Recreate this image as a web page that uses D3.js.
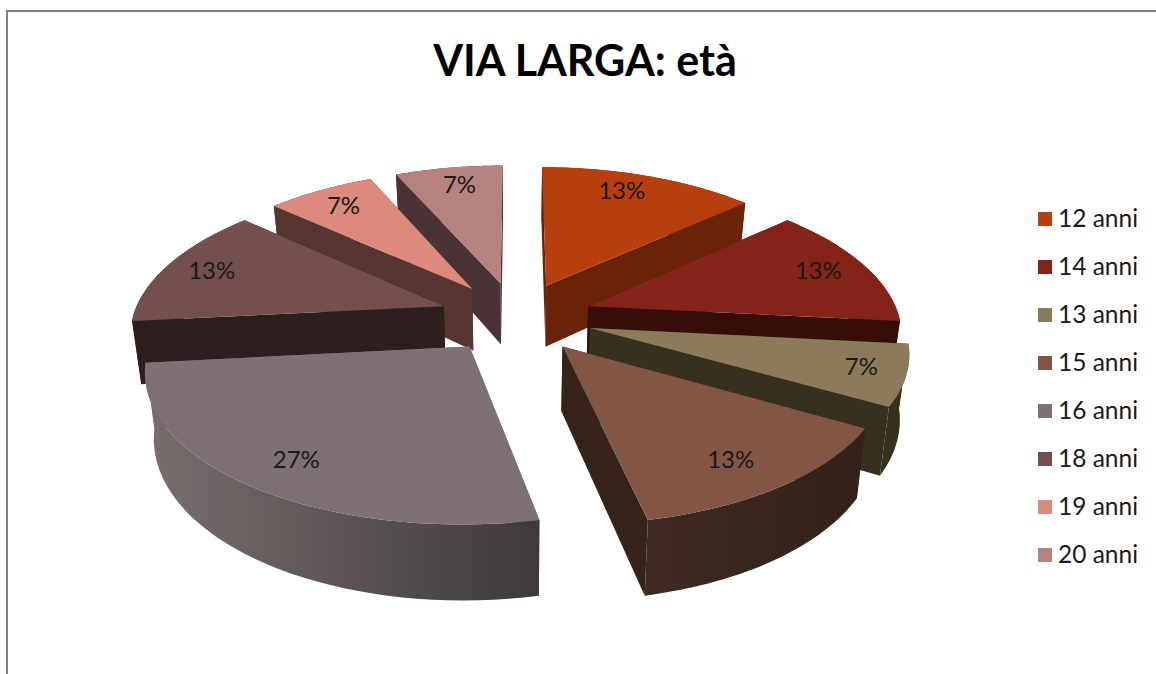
<!DOCTYPE html>
<html>

<head>
  <script src="https://d3js.org/d3.v7.min.js"></script>
  <meta charset='utf-8'>
  <title>VIA LARGA: età</title>
  <style>
    html, body {
      margin: 0;
      background: #fff;
    }

    svg {
      display: block;
    }

    text {
      font-family: Lato, "Open Sans", sans-serif;
      fill: #1a1a1a;
    }
  </style>
</head>

<body>
  <div id='chart'></div>
  <script>
    var ages = ['12 anni', '14 anni', '13 anni', '15 anni', '16 anni', '18 anni', '19 anni', '20 anni'];
    var counts = [2, 2, 1, 2, 4, 2, 1, 1];
    var topColors = ['#b83e10', '#842318', '#8b7b5a', '#825545', '#7e7073', '#734f4f', '#dc8a7e', '#b58280'];
    var wallColors = ['#692408', '#380d07', '#38301f', '#36231b', '#7a6e6f', '#2e1f1f', '#573531', '#4a3334'];
    var outerLeft = ['#692408', '#380d07', '#38301f', '#3e2a20', '#7a6e6f', '#2e1f1f', '#573531', '#4a3334'];
    var outerRight = ['#692408', '#380d07', '#38301f', '#33211a', '#3e3a3a', '#2e1f1f', '#573531', '#4a3334'];

    var width = 1156,
      height = 674;

    var svg = d3.select('#chart')
      .append('svg')
      .attr('width', width)
      .attr('height', height);

    // chart frame, only top and left are inside the picture
    svg.append('path')
      .attr('d', 'M7,674V11H1156')
      .attr('fill', 'none')
      .attr('stroke', '#808080')
      .attr('stroke-width', 2);

    svg.append('text')
      .attr('x', 585)
      .attr('y', 76)
      .attr('text-anchor', 'middle')
      .attr('font-size', 43)
      .attr('font-weight', 700)
      .style('fill', '#000')
      .text('VIA LARGA: età');

    // perspective settings, fitted by eye on the reference
    var cx = 516, cy = 317,
      fx = 311, fy = 143.5,
      persp = 0.142,
      depth = 63,
      explode = 0.247,
      labelRadius = 0.83;

    // x, y on the unit disc (y goes away from the viewer), z = 0 top, 1 bottom
    function project(x, y, z) {
      var w = 1 + persp * y;
      var wx = w + 0.02 * Math.max(y, 0);
      return [cx + fx * x / wx * (1 - 0.024 * z), cy - fy * y / w + depth * z / w];
    }

    var pie = d3.pie().sort(null).value(function(d) { return d; });
    var slices = pie(counts).map(function(d, i) {
      d.i = i;
      d.mid = (d.startAngle + d.endAngle) / 2;
      d.ox = explode * Math.sin(d.mid);
      d.oy = explode * Math.cos(d.mid);
      return d;
    });

    function onRim(d, a, z) {
      return project(d.ox + Math.sin(a), d.oy + Math.cos(a), z);
    }

    function rim(d, z) {
      return d3.range(0, 41).map(function(k) {
        return onRim(d, d.startAngle + (d.endAngle - d.startAngle) * k / 40, z);
      });
    }

    var line = d3.line();
    var color = d3.scaleOrdinal().domain(ages).range(topColors);
    var defs = svg.append('defs');

    slices.forEach(function(d) {
      var ends = rim(d, 0);
      var g = defs.append('linearGradient')
        .attr('id', 'outer' + d.i)
        .attr('gradientUnits', 'userSpaceOnUse')
        .attr('x1', d3.min(ends, function(p) { return p[0]; }))
        .attr('x2', d3.max(ends, function(p) { return p[0]; }))
        .attr('y1', 0)
        .attr('y2', 0);
      g.append('stop').attr('offset', 0).attr('stop-color', outerLeft[d.i]);
      g.append('stop').attr('offset', 1).attr('stop-color', outerRight[d.i]);
    });

    // back slices first so the front ones cover them
    var order = slices.slice().sort(function(a, b) {
      return d3.descending(a.oy, b.oy);
    });

    var group = svg.selectAll('g.slice')
      .data(order)
      .enter()
      .append('g')
      .attr('class', 'slice');

    group.each(function(d) {
      var g = d3.select(this);
      var top = rim(d, 0);
      var bottom = rim(d, 1);
      var apexTop = project(d.ox, d.oy, 0);
      var apexBottom = project(d.ox, d.oy, 1);

      [0, top.length - 1].forEach(function(k) {
        g.append('path')
          .attr('d', line([apexTop, top[k], bottom[k], apexBottom]) + 'Z')
          .attr('fill', wallColors[d.i]);
      });

      g.append('path')
        .attr('d', line(top.concat(bottom.slice().reverse())) + 'Z')
        .attr('fill', 'url(#outer' + d.i + ')');

      g.append('path')
        .attr('d', line([apexTop].concat(top)) + 'Z')
        .attr('fill', color(ages[d.i]));
    });

    var percent = d3.format('.0%');
    var total = d3.sum(counts);

    // small sideways nudges, the labels are not all on the same radius
    var labelNudge = [0, 0, 11, -10, 5, -2, 0, 3];

    svg.append('g')
      .selectAll('text')
      .data(slices)
      .enter()
      .append('text')
      .attr('text-anchor', 'middle')
      .attr('font-size', 24)
      .attr('x', function(d) { return labelPos(d)[0] + labelNudge[d.i]; })
      .attr('y', function(d) { return labelPos(d)[1] + 8; })
      .text(function(d) { return percent(d.value / total); });

    function labelPos(d) {
      // the first label sits a bit left of the middle of its slice
      var a = d.i === 0 ? d.mid - 0.056 : d.mid;
      return project(d.ox + labelRadius * Math.sin(a), d.oy + labelRadius * Math.cos(a), 0);
    }

    var legendY = d3.scalePoint().domain(ages).range([219, 555]);

    var legend = svg.append('g')
      .selectAll('g')
      .data(ages)
      .enter()
      .append('g')
      .attr('transform', function(d) { return 'translate(1038,' + legendY(d) + ')'; });

    legend.append('rect')
      .attr('y', -7)
      .attr('width', 14)
      .attr('height', 14)
      .attr('fill', function(d) { return color(d); });

    legend.append('text')
      .attr('x', 20)
      .attr('y', 8)
      .attr('font-size', 24.5)
      .text(function(d) { return d; });
  </script>
</body>

</html>
